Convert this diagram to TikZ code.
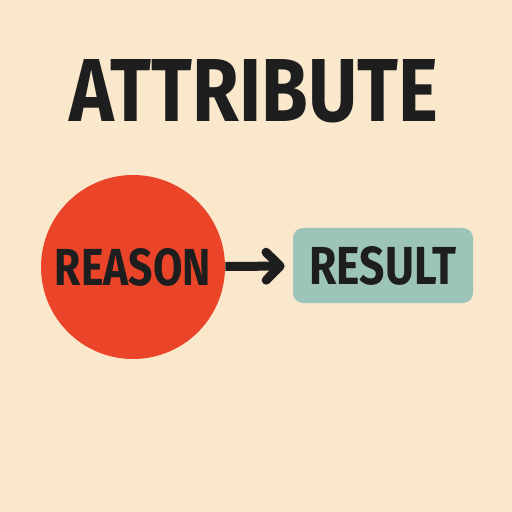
\documentclass[tikz,border=0pt]{standalone}
\usepackage{fontspec}
\setmainfont{Fira Sans}
\usetikzlibrary{arrows.meta}

\definecolor{paper}{HTML}{FAE8CC}
\definecolor{reasonred}{HTML}{EA4529}
\definecolor{resultteal}{HTML}{9DC4B9}
\definecolor{ink}{HTML}{1E1E1E}

\begin{document}
\begin{tikzpicture}[x=0.5pt, y=-0.5pt,
    cause/.style = {circle, fill=reasonred, minimum size=92pt, inner sep=0pt},
    effect/.style = {rounded corners=5pt, fill=resultteal, minimum width=90pt, minimum height=37.5pt, inner sep=0pt},
    word/.style = {text=ink, font=\bfseries, inner sep=0pt},
    link/.style = {draw=ink, line width=4.5pt, -{Straight Barb[round, length=7pt, width=14pt]}, shorten >=4pt}]

    \fill[paper] (0,0) rectangle (512,512);
    \useasboundingbox (0,0) rectangle (512,512);

    \node[word] (title) at (254,91) {\resizebox{184pt}{31pt}{ATTRIBUTE}};
    \node[cause, word] (reason) at (133,267) {\resizebox{78pt}{18.5pt}{REASON}};
    \node[effect, word] (result) at (383,265.5) {\resizebox{73.5pt}{19pt}{RESULT}};

    \draw[link] (reason) -- (result);

\end{tikzpicture}
\end{document}
